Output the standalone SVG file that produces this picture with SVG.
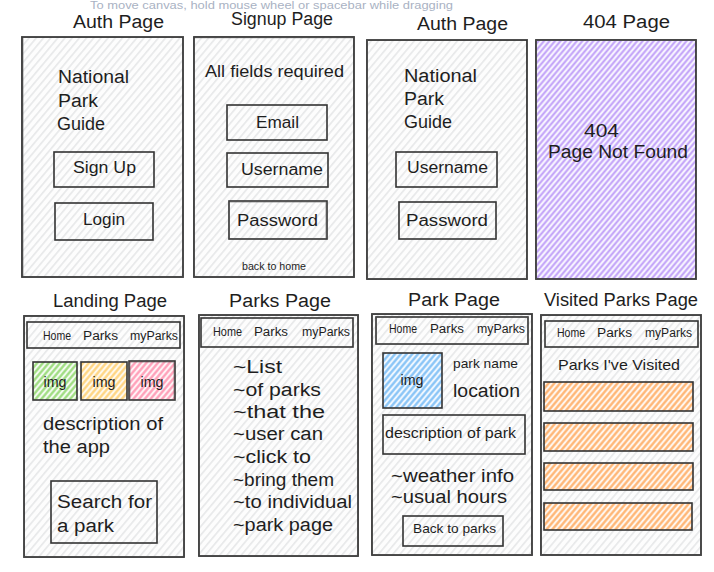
<svg xmlns="http://www.w3.org/2000/svg" width="714" height="572" viewBox="0 0 714 572">
  <defs>
    <!-- hachure fills -->
    <pattern id="hGray" width="5.5" height="8" patternUnits="userSpaceOnUse" patternTransform="rotate(40)">
      <line x1="2.7" y1="0" x2="2.7" y2="8" stroke="#dcdddf" stroke-width="1.1"/>
    </pattern>
    <pattern id="hPurple" width="4.2" height="8" patternUnits="userSpaceOnUse" patternTransform="rotate(40)">
      <rect width="4.2" height="8" fill="#f7f3ff"/>
      <line x1="2.1" y1="0" x2="2.1" y2="8" stroke="#bf9ff8" stroke-width="1.9"/>
    </pattern>
    <pattern id="hGreen" width="4.4" height="8" patternUnits="userSpaceOnUse" patternTransform="rotate(40)">
      <rect width="4.4" height="8" fill="#f3fbef"/>
      <line x1="2.2" y1="0" x2="2.2" y2="8" stroke="#9bdb7c" stroke-width="2.2"/>
    </pattern>
    <pattern id="hYellow" width="4.4" height="8" patternUnits="userSpaceOnUse" patternTransform="rotate(40)">
      <rect width="4.4" height="8" fill="#fff9ec"/>
      <line x1="2.2" y1="0" x2="2.2" y2="8" stroke="#ffd47e" stroke-width="2.2"/>
    </pattern>
    <pattern id="hPink" width="4.4" height="8" patternUnits="userSpaceOnUse" patternTransform="rotate(40)">
      <rect width="4.4" height="8" fill="#fff3f6"/>
      <line x1="2.2" y1="0" x2="2.2" y2="8" stroke="#ff9cb6" stroke-width="2.2"/>
    </pattern>
    <pattern id="hBlue" width="4.4" height="8" patternUnits="userSpaceOnUse" patternTransform="rotate(40)">
      <rect width="4.4" height="8" fill="#eff7ff"/>
      <line x1="2.2" y1="0" x2="2.2" y2="8" stroke="#84c2f6" stroke-width="2.2"/>
    </pattern>
    <pattern id="hOrange" width="4.4" height="8" patternUnits="userSpaceOnUse" patternTransform="rotate(40)">
      <rect width="4.4" height="8" fill="#fff6ee"/>
      <line x1="2.2" y1="0" x2="2.2" y2="8" stroke="#ffb370" stroke-width="2.2"/>
    </pattern>
  </defs>
  <style>
    text { font-family: "Liberation Sans", Arial, sans-serif; fill: #1e1e1e; }
    .title { font-size: 18px; }
    .big { font-size: 18px; }
    .mid { font-size: 16px; }
    .nav { font-size: 12px; }
    .small { font-size: 10px; }
    .hint { font-size: 10px; fill: #a9b2c3; }
    .frame { fill: url(#hGray); stroke: #333; stroke-width: 1.8; }
    .frameBg { fill: #fdfdfd; }
    .box { fill: none; stroke: #333; stroke-width: 1.6; }
    .echo { fill: none; stroke: #555; stroke-width: 0.8; opacity: 0.7; }
  </style>

  <rect width="714" height="572" fill="#ffffff"/>

  <!-- canvas hint at the top edge -->
  <text class="hint" x="90" y="8.5" textLength="363" lengthAdjust="spacingAndGlyphs">To move canvas, hold mouse wheel or spacebar while dragging</text>

  <!-- ===== Row 1 ===== -->
  <g id="auth-page">
    <text class="title" x="73" y="28" textLength="91" lengthAdjust="spacingAndGlyphs">Auth Page</text>
    <rect class="frameBg" x="22" y="37" width="161" height="240"/>
    <rect class="frame" x="22" y="37" width="161" height="240"/>
    <rect class="echo" x="23" y="36.4" width="160" height="240.5"/>
    <text class="big" x="58" y="83" textLength="71" lengthAdjust="spacingAndGlyphs">National</text>
    <text class="big" x="58" y="107" textLength="40" lengthAdjust="spacingAndGlyphs">Park</text>
    <text class="big" x="57" y="130" textLength="48" lengthAdjust="spacingAndGlyphs">Guide</text>
    <rect class="box" x="54" y="152" width="100" height="35"/>
    <text class="mid" x="73" y="173" textLength="63" lengthAdjust="spacingAndGlyphs">Sign Up</text>
    <rect class="box" x="55" y="203" width="98" height="37"/>
    <text class="mid" x="83" y="225" textLength="42" lengthAdjust="spacingAndGlyphs">Login</text>
  </g>

  <g id="signup-page">
    <text class="title" x="231" y="25" textLength="102" lengthAdjust="spacingAndGlyphs">Signup Page</text>
    <rect class="frameBg" x="194" y="37" width="160" height="240"/>
    <rect class="frame" x="194" y="37" width="160" height="240"/>
    <rect class="echo" x="194.6" y="37.8" width="159.6" height="239"/>
    <text class="mid" x="205" y="77" textLength="139" lengthAdjust="spacingAndGlyphs">All fields required</text>
    <rect class="box" x="227" y="105" width="100" height="35"/>
    <text class="mid" x="256" y="128" textLength="43" lengthAdjust="spacingAndGlyphs">Email</text>
    <rect class="box" x="227" y="153" width="101" height="34"/>
    <text class="mid" x="241" y="175" textLength="82" lengthAdjust="spacingAndGlyphs">Username</text>
    <rect class="box" x="229" y="201" width="98" height="38"/>
    <rect class="echo" x="228.5" y="202" width="97.5" height="36.5"/>
    <text class="mid" x="237" y="226" textLength="81" lengthAdjust="spacingAndGlyphs">Password</text>
    <text class="small" x="242" y="270" textLength="64" lengthAdjust="spacingAndGlyphs">back to home</text>
  </g>

  <g id="auth-page-login">
    <text class="title" x="417" y="30" textLength="91" lengthAdjust="spacingAndGlyphs">Auth Page</text>
    <rect class="frameBg" x="367" y="40" width="160" height="239"/>
    <rect class="frame" x="367" y="40" width="160" height="239"/>
    <rect class="echo" x="367.6" y="39.4" width="159.8" height="239.2"/>
    <text class="big" x="404" y="82" textLength="73" lengthAdjust="spacingAndGlyphs">National</text>
    <text class="big" x="404" y="105" textLength="40" lengthAdjust="spacingAndGlyphs">Park</text>
    <text class="big" x="404" y="128" textLength="48" lengthAdjust="spacingAndGlyphs">Guide</text>
    <rect class="box" x="396" y="152" width="101" height="35"/>
    <text class="mid" x="407" y="173" textLength="81" lengthAdjust="spacingAndGlyphs">Username</text>
    <rect class="box" x="399" y="202" width="97" height="37"/>
    <text class="mid" x="406" y="226" textLength="82" lengthAdjust="spacingAndGlyphs">Password</text>
  </g>

  <g id="not-found-page">
    <text class="title" x="583" y="28" textLength="87" lengthAdjust="spacingAndGlyphs">404 Page</text>
    <rect x="536" y="40" width="160" height="239" fill="url(#hPurple)" stroke="#333" stroke-width="1.8"/>
    <rect class="echo" x="536.6" y="40.5" width="159.8" height="238.5"/>
    <text class="big" x="584" y="137" textLength="35" lengthAdjust="spacingAndGlyphs">404</text>
    <text class="big" x="548" y="158" textLength="140" lengthAdjust="spacingAndGlyphs">Page Not Found</text>
  </g>

  <!-- ===== Row 2 ===== -->
  <g id="landing-page">
    <text class="title" x="53" y="307" textLength="114" lengthAdjust="spacingAndGlyphs">Landing Page</text>
    <rect class="frameBg" x="24" y="316" width="160" height="241"/>
    <rect class="frame" x="24" y="316" width="160" height="241"/>
    <rect class="echo" x="23.5" y="316.6" width="160" height="240"/>
    <rect class="box" x="27" y="322" width="153" height="26"/>
    <text class="nav" x="43" y="340" textLength="28" lengthAdjust="spacingAndGlyphs">Home</text>
    <text class="nav" x="83" y="340" textLength="35" lengthAdjust="spacingAndGlyphs">Parks</text>
    <text class="nav" x="130" y="340" textLength="48" lengthAdjust="spacingAndGlyphs">myParks</text>
    <rect x="33" y="362" width="44" height="38" fill="url(#hGreen)" stroke="#333" stroke-width="1.6"/>
    <text x="55" y="387" font-size="15" text-anchor="middle" textLength="23" lengthAdjust="spacingAndGlyphs">img</text>
    <rect x="81" y="362" width="46" height="38" fill="url(#hYellow)" stroke="#333" stroke-width="1.6"/>
    <text x="104" y="387" font-size="15" text-anchor="middle" textLength="23" lengthAdjust="spacingAndGlyphs">img</text>
    <rect x="129" y="361" width="46" height="39" fill="url(#hPink)" stroke="#333" stroke-width="1.6"/>
    <rect class="echo" x="130" y="362" width="44" height="37.5"/>
    <text x="152" y="387" font-size="15" text-anchor="middle" textLength="23" lengthAdjust="spacingAndGlyphs">img</text>
    <text class="big" x="43" y="430" textLength="120" lengthAdjust="spacingAndGlyphs">description of</text>
    <text class="big" x="43" y="453" textLength="67" lengthAdjust="spacingAndGlyphs">the app</text>
    <rect class="box" x="51" y="481" width="106" height="62"/>
    <text class="big" x="57" y="508" textLength="95" lengthAdjust="spacingAndGlyphs">Search for</text>
    <text class="big" x="57" y="532" textLength="57" lengthAdjust="spacingAndGlyphs">a park</text>
  </g>

  <g id="parks-page">
    <text class="title" x="229" y="307" textLength="102" lengthAdjust="spacingAndGlyphs">Parks Page</text>
    <rect class="frameBg" x="199" y="315" width="159" height="241"/>
    <rect class="frame" x="199" y="315" width="159" height="241"/>
    <rect class="echo" x="199.6" y="314.5" width="158" height="241"/>
    <rect class="box" x="201" y="318" width="152" height="29"/>
    <text class="nav" x="213" y="336" textLength="29" lengthAdjust="spacingAndGlyphs">Home</text>
    <text class="nav" x="254" y="336" textLength="34" lengthAdjust="spacingAndGlyphs">Parks</text>
    <text class="nav" x="302" y="336" textLength="48" lengthAdjust="spacingAndGlyphs">myParks</text>
    <text class="big" x="233" y="373" textLength="49" lengthAdjust="spacingAndGlyphs">~List</text>
    <text class="big" x="233" y="396" textLength="88" lengthAdjust="spacingAndGlyphs">~of parks</text>
    <text class="big" x="233" y="418" textLength="92" lengthAdjust="spacingAndGlyphs">~that the</text>
    <text class="big" x="233" y="440" textLength="90" lengthAdjust="spacingAndGlyphs">~user can</text>
    <text class="big" x="233" y="463" textLength="78" lengthAdjust="spacingAndGlyphs">~click to</text>
    <text class="big" x="233" y="486" textLength="101" lengthAdjust="spacingAndGlyphs">~bring them</text>
    <text class="big" x="233" y="508" textLength="119" lengthAdjust="spacingAndGlyphs">~to individual</text>
    <text class="big" x="233" y="531" textLength="100" lengthAdjust="spacingAndGlyphs">~park page</text>
  </g>

  <g id="park-page">
    <text class="title" x="408" y="306" textLength="92" lengthAdjust="spacingAndGlyphs">Park Page</text>
    <rect class="frameBg" x="372" y="314" width="160" height="241"/>
    <rect class="frame" x="372" y="314" width="160" height="241"/>
    <rect class="echo" x="372.6" y="313.6" width="159.6" height="241"/>
    <rect class="box" x="376" y="317" width="152" height="27"/>
    <rect class="echo" x="376.6" y="316.4" width="151" height="28"/>
    <text class="nav" x="389" y="333" textLength="28" lengthAdjust="spacingAndGlyphs">Home</text>
    <text class="nav" x="430" y="333" textLength="34" lengthAdjust="spacingAndGlyphs">Parks</text>
    <text class="nav" x="477" y="333" textLength="48" lengthAdjust="spacingAndGlyphs">myParks</text>
    <rect x="383" y="353" width="59" height="55" fill="url(#hBlue)" stroke="#333" stroke-width="1.6"/>
    <text x="412" y="385" font-size="15" text-anchor="middle" textLength="23" lengthAdjust="spacingAndGlyphs">img</text>
    <text x="453" y="368" font-size="13" textLength="65" lengthAdjust="spacingAndGlyphs">park name</text>
    <text class="big" x="453" y="397" textLength="67" lengthAdjust="spacingAndGlyphs">location</text>
    <rect class="box" x="383" y="415" width="142" height="39"/>
    <text x="385" y="438" font-size="14" textLength="131" lengthAdjust="spacingAndGlyphs">description of park</text>
    <text class="big" x="391" y="482" textLength="123" lengthAdjust="spacingAndGlyphs">~weather info</text>
    <text class="big" x="391" y="503" textLength="116" lengthAdjust="spacingAndGlyphs">~usual hours</text>
    <rect class="box" x="403" y="516" width="100" height="30"/>
    <text x="413" y="533" font-size="13" textLength="83" lengthAdjust="spacingAndGlyphs">Back to parks</text>
  </g>

  <g id="visited-parks-page">
    <text class="title" x="544" y="306" textLength="154" lengthAdjust="spacingAndGlyphs">Visited Parks Page</text>
    <rect class="frameBg" x="541" y="315" width="160" height="240"/>
    <rect class="frame" x="541" y="315" width="160" height="240"/>
    <rect class="echo" x="541.6" y="314.5" width="159.5" height="240.5"/>
    <rect class="box" x="545" y="321" width="153" height="26"/>
    <text class="nav" x="557" y="337" textLength="28" lengthAdjust="spacingAndGlyphs">Home</text>
    <text class="nav" x="597" y="337" textLength="35" lengthAdjust="spacingAndGlyphs">Parks</text>
    <text class="nav" x="645" y="337" textLength="47" lengthAdjust="spacingAndGlyphs">myParks</text>
    <text x="558" y="370" font-size="15" textLength="122" lengthAdjust="spacingAndGlyphs">Parks I've Visited</text>
    <rect x="544" y="382" width="149" height="29" fill="url(#hOrange)" stroke="#333" stroke-width="1.6"/>
    <rect x="544" y="423" width="149" height="28" fill="url(#hOrange)" stroke="#333" stroke-width="1.6"/>
    <rect x="544" y="463" width="149" height="27" fill="url(#hOrange)" stroke="#333" stroke-width="1.6"/>
    <rect x="544" y="503" width="148" height="27" fill="url(#hOrange)" stroke="#333" stroke-width="1.6"/>
  </g>
</svg>
